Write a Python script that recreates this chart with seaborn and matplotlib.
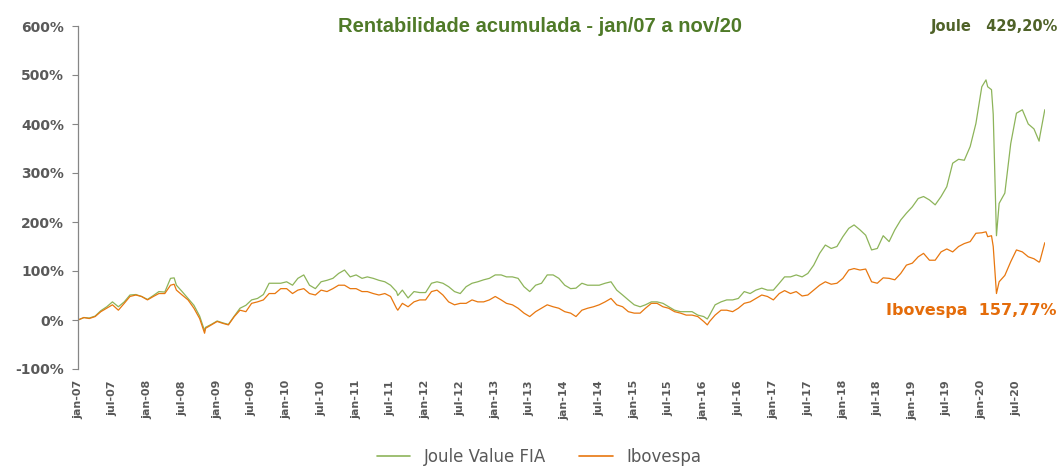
import numpy as np
import pandas as pd
import matplotlib
matplotlib.use('Agg')
import matplotlib.pyplot as plt
import seaborn as sns

# valores mensais (inicio de cada mes, jan/07 a nov/20), rentabilidade acumulada em %
joule = [0, 5, 4, 8, 19, 27, 37, 27, 37, 51, 52, 48,
         42, 50, 58, 57, 85, 71, 58, 44, 30, 8, -15, -9,
         -2, -6, -9, 8, 24, 30, 41, 44, 52, 75, 75, 75,
         78, 71, 85, 92, 71, 64, 78, 81, 85, 95, 102, 88,
         92, 85, 88, 85, 81, 78, 71, 58, 61, 45, 58, 56,
         56, 75, 78, 75, 68, 58, 54, 68, 75, 78, 82, 85,
         92, 92, 88, 88, 85, 68, 58, 71, 75, 92, 92, 85,
         71, 64, 65, 75, 71, 71, 71, 75, 78, 61, 51, 41,
         31, 27, 31, 37, 37, 34, 27, 20, 17, 17, 17, 10,
         7, 10, 31, 37, 41, 41, 44, 58, 54, 61, 65, 61,
         61, 75, 88, 88, 92, 88, 95, 112, 136, 153, 146, 150,
         170, 187, 194, 184, 173, 143, 146, 172, 160, 184, 204, 218,
         231, 248, 252, 245, 235, 252, 272, 320, 328, 326, 354, 401,
         476, 476, 420, 238, 259, 360, 422, 429, 400, 390, 375]
ibovespa = [0, 5, 3, 7, 17, 24, 31, 20, 34, 48, 51, 48,
            41, 48, 54, 54, 71, 61, 51, 41, 24, 3, -17, -10,
            -3, -7, -10, 7, 20, 17, 34, 37, 41, 54, 54, 64,
            64, 54, 61, 64, 54, 51, 61, 58, 64, 71, 71, 64,
            64, 58, 58, 54, 51, 54, 48, 24, 34, 27, 37, 41,
            41, 58, 61, 51, 37, 31, 34, 34, 41, 37, 37, 41,
            48, 41, 34, 31, 24, 14, 7, 17, 24, 31, 27, 24,
            17, 14, 7, 20, 24, 27, 31, 37, 44, 31, 27, 17,
            14, 14, 24, 34, 34, 27, 24, 17, 14, 10, 10, 7,
            -3, -3, 10, 20, 20, 17, 24, 34, 37, 44, 51, 48,
            41, 54, 60, 54, 58, 49, 51, 61, 71, 78, 73, 75,
            85, 102, 105, 102, 104, 78, 75, 86, 85, 82, 95, 112,
            116, 129, 136, 122, 122, 139, 145, 139, 150, 156, 160, 177,
            178, 170, 150, 78, 91, 119, 143, 139, 129, 125, 120]

# pontos extremos dentro do mes
extra_dates = ["2008-05-20", "2008-10-27", "2011-08-08", "2016-01-20",
               "2020-01-23", "2020-02-21", "2020-03-18", "2020-10-28", "2020-11-27"]
extra_joule = [86, -22, 50, 2, 490, 470, 172, 365, 429.2]
extra_ibov = [73, -27, 20, -10, 180, 172, 54, 118, 157.77]

series_names = ["Joule Value FIA", "Ibovespa"]
colors = ["#8db45a", "#e8770f"]

monthly = pd.date_range("2007-01-01", periods=len(joule), freq="MS")
dates = list(monthly) + list(pd.to_datetime(extra_dates))
df = pd.DataFrame({"data": dates,
                   "Joule Value FIA": joule + extra_joule,
                   "Ibovespa": ibovespa + extra_ibov}).sort_values("data")
long_df = df.melt(id_vars="data", var_name="serie", value_name="ret")

sns.set_style("white")
plt.rcParams['font.family'] = ['DejaVu Sans']

fig = plt.figure(figsize=(10.61, 4.66), dpi=100)
ax = fig.add_axes([78 / 1061, 1 - 369 / 466, (1045 - 78) / 1061, 343 / 466])

sns.lineplot(data=long_df, x="data", y="ret", hue="serie", hue_order=series_names,
             palette=colors, linewidth=0.9, ax=ax, legend=False)

ax.set_xlim(pd.Timestamp("2007-01-01"), pd.Timestamp("2020-11-28"))
ax.set_ylim(-100, 600)
ax.set_xlabel("")
ax.set_ylabel("")

yticks = np.arange(-100, 601, 100)
ax.set_yticks(yticks)
ax.set_yticklabels([f"{v}%" for v in yticks], fontsize=10, fontweight='bold', color='#595959')

xticks = pd.date_range("2007-01-01", "2020-07-01", freq="6MS")
ax.set_xticks(xticks)
ax.set_xticklabels([f"{'jan' if d.month == 1 else 'jul'}-{d:%y}" for d in xticks],
                   rotation=90, fontsize=8, fontweight='bold', color='#595959')

ax.tick_params(axis='y', direction='out', length=4, width=0.8, color='#868686', pad=6, left=True)
ax.tick_params(axis='x', length=0, pad=8)
for s in ['top', 'right', 'bottom']:
    ax.spines[s].set_visible(False)
ax.spines['left'].set_color('#868686')
ax.spines['left'].set_linewidth(0.9)

fig.text(0.509, 1 - 26 / 466, "Rentabilidade acumulada - jan/07 a nov/20",
         ha='center', va='center', fontsize=14.5, fontweight='bold', color='#4f7a28',
         family=['Liberation Sans Narrow', 'Liberation Sans', 'DejaVu Sans'])
fig.text(1058 / 1061, 1 - 26 / 466, "Joule   429,20%", ha='right', va='center',
         fontsize=10.5, fontweight='bold', color='#4f6228')
fig.text(1056 / 1061, 1 - 311 / 466, "Ibovespa  157,77%", ha='right', va='center',
         fontsize=11.5, fontweight='bold', color='#e46c0a')

handles = [plt.Line2D([], [], color=c, linewidth=1.2) for c in colors]
fig.legend(handles, series_names, loc='center', bbox_to_anchor=(0.508, 1 - 457 / 466),
           ncol=2, frameon=False, fontsize=12, handlelength=2.0, handletextpad=0.8,
           columnspacing=2.0, labelcolor='#595959')

fig.savefig("out.png", dpi=100)
plt.close(fig)
